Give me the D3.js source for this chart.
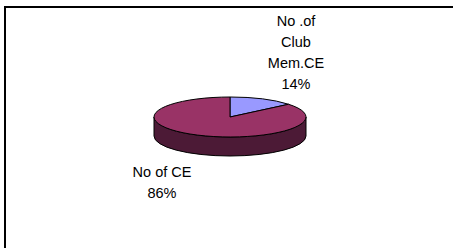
<!DOCTYPE html>
<html><head><meta charset="utf-8">
<script src="https://cdn.jsdelivr.net/npm/d3@7"></script>
<style>html,body{margin:0;padding:0;background:#fff;overflow:hidden;}svg{display:block;}</style>
</head><body>
<svg id="c" width="453" height="248"></svg>
<script>
const categories = ["No .of Club Mem.CE", "No of CE"];
const values = [14, 86];
const labelLines = [["No .of", "Club", "Mem.CE", "14%"], ["No of CE", "86%"]];
const colors = ["#9999FF", "#993366"];
const sideColors = ["#4D4D80", "#4C1A36"];

const svg = d3.select("#c");
// frame (cropped on right/bottom)
svg.append("rect").attr("x", 5).attr("y", 7).attr("width", 520).attr("height", 320)
  .attr("fill", "none").attr("stroke", "#000").attr("stroke-width", 2);

const cx = 230, cy = 117, rx = 76, ry = 20, depth = 19;
const xs = d3.scaleLinear().domain([-1, 1]).range([cx - rx, cx + rx]);
const ys = d3.scaleLinear().domain([-1, 1]).range([cy - ry, cy + ry]);
const px = a => xs(Math.sin(a));
const py = a => ys(-Math.cos(a));

const arcs = d3.pie().sort(null).value(d => d)(values);

// side walls (front half only: angles between PI/2 and 3PI/2)
const g = svg.append("g");
arcs.forEach((a, i) => {
  const s = Math.max(a.startAngle, Math.PI / 2), e = Math.min(a.endAngle, 3 * Math.PI / 2);
  if (e <= s) return;
  const large = (e - s) > Math.PI ? 1 : 0;
  const p = `M${px(s)},${py(s)} A${rx},${ry} 0 ${large} 1 ${px(e)},${py(e)} L${px(e)},${py(e)+depth} A${rx},${ry} 0 ${large} 0 ${px(s)},${py(s)+depth} Z`;
  g.append("path").attr("d", p).attr("fill", sideColors[i]).attr("stroke", "#000").attr("stroke-width", 1);
});
// top faces
arcs.forEach((a, i) => {
  const s = a.startAngle, e = a.endAngle;
  const large = (e - s) > Math.PI ? 1 : 0;
  const p = `M${cx},${cy} L${px(s)},${py(s)} A${rx},${ry} 0 ${large} 1 ${px(e)},${py(e)} Z`;
  g.append("path").attr("d", p).attr("fill", colors[i]).attr("stroke", "#000").attr("stroke-width", 1).attr("stroke-linejoin", "round");
});

// labels
const labelPos = [{x: 296, y: 25.5}, {x: 162, y: 177}];
labelLines.forEach((lines, i) => {
  const t = svg.append("text").attr("text-anchor", "middle")
    .attr("font-family", "Liberation Sans, Arial, sans-serif").attr("font-size", 14.5).attr("fill", "#000");
  lines.forEach((l, j) => {
    t.append("tspan").attr("x", labelPos[i].x).attr("y", labelPos[i].y + j * 21).text(l);
  });
});
</script>
</body></html>
